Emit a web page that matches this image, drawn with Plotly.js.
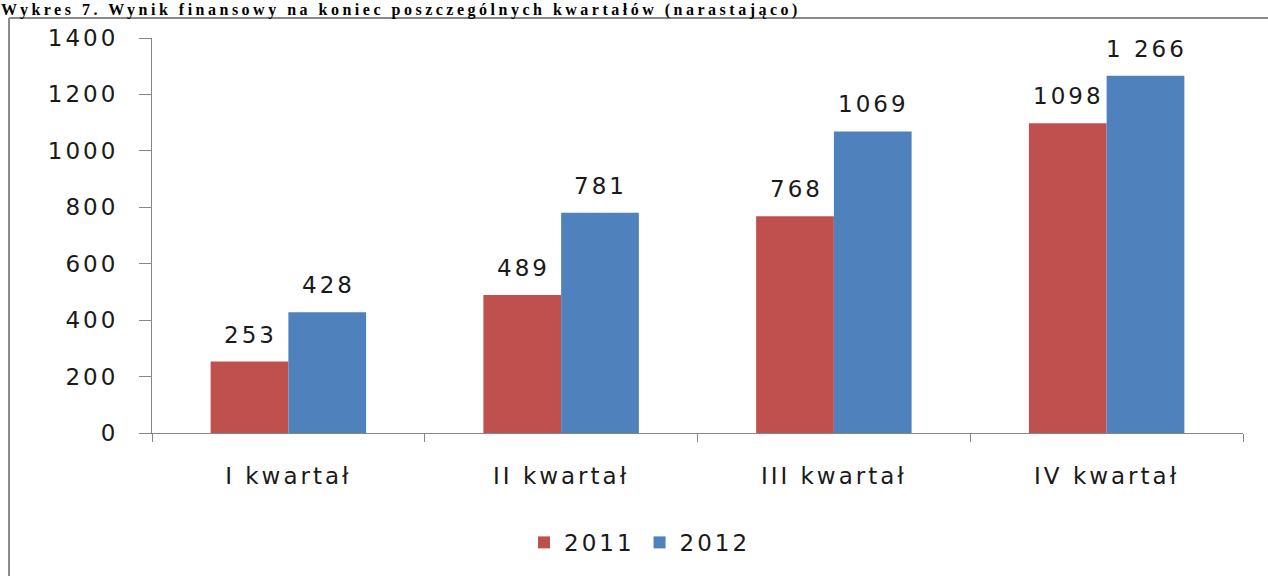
<!DOCTYPE html>
<html>
<head>
<meta charset="utf-8">
<script src="https://cdn.plot.ly/plotly-3.0.1.min.js"></script>
<style>
html,body{margin:0;padding:0;background:#fff;}
#chart{width:1268px;height:576px;}
text{letter-spacing:3px;}
</style>
</head>
<body>
<div id="chart"></div>
<script>
const categories = ['I kwartał', 'II kwartał', 'III kwartał', 'IV kwartał'];
const values2011 = [253, 489, 768, 1098];
const values2012 = [428, 781, 1069, 1266];
const labels2011 = ['253', '489', '768', '1098'];
const labels2012 = ['428', '781', '1069', '1 266'];
const yTicks = [0, 200, 400, 600, 800, 1000, 1200, 1400];
const chartTitle = 'Wykres 7. Wynik finansowy na koniec poszczególnych kwartałów (narastająco)';

const F = 'DejaVu Sans, Verdana, sans-serif';
const txtColor = '#1a1a1a';
const axisColor = '#868686';

const L = 152, R = 1243, T = 38, B = 435, W = 1268, H = 576;
const px = x => (x - L) / (R - L);
const py = y => (B - y) / (B - T);
const BARGAP = 0.43;
const barOffset = (1 - BARGAP) * (R - L) / categories.length / 4;

const traces = [
  {type:'bar', name:'2011', x:categories, y:values2011, marker:{color:'#C0504D'}},
  {type:'bar', name:'2012', x:categories, y:values2012, marker:{color:'#4F81BD'}}
];

const labelAnn = [];
[[values2011, labels2011, -1], [values2012, labels2012, 1]].forEach(([vals, labs, side]) => {
  vals.forEach((v, i) => labelAnn.push({
    xref:'x', yref:'y', x:categories[i], y:v, text:labs[i], showarrow:false,
    xshift: side * barOffset + 1, yshift: 12, yanchor:'bottom', xanchor:'center',
    font:{family:F, size:23, color:txtColor}
  }));
});

const layout = {
  width:W, height:H,
  margin:{l:L, r:W-R, t:T, b:H-B, pad:0},
  paper_bgcolor:'#fff', plot_bgcolor:'#fff',
  barmode:'group', bargap:BARGAP, bargroupgap:0,
  font:{family:F, size:23, color:txtColor},
  xaxis:{showgrid:false, showline:true, linecolor:axisColor, linewidth:1,
         ticks:'outside', ticklen:8, tickcolor:axisColor, tickson:'boundaries',
         ticklabelstandoff:22,
         tickfont:{family:F, size:23, color:txtColor}, zeroline:false},
  yaxis:{range:[0,1400], tickvals:yTicks, showgrid:false, showline:true,
         linecolor:axisColor, linewidth:1, ticks:'outside', ticklen:12,
         tickcolor:axisColor, zeroline:false, ticklabelstandoff:16,
         tickfont:{family:F, size:23, color:txtColor}},
  showlegend:true,
  legend:{orientation:'h', x:px(640), xanchor:'center', y:py(545), yanchor:'middle',
          font:{family:F, size:23, color:txtColor}, itemwidth:30, traceorder:'normal'},
  annotations:[{text:'<span style="letter-spacing:3.5px"><b>'+chartTitle+'</b></span>', xref:'paper', yref:'paper',
    x:px(0), xanchor:'left', y:py(0), yanchor:'top', showarrow:false, borderpad:0,
    font:{family:'Liberation Serif, Times New Roman, serif', size:16, color:'#000'}}].concat(labelAnn),
  shapes:[
    {type:'line', xref:'paper', yref:'paper', x0:px(9), x1:px(1300), y0:py(18), y1:py(18),
     line:{color:'#8a8a8a', width:2}},
    {type:'line', xref:'paper', yref:'paper', x0:px(9), x1:px(9), y0:py(18), y1:py(620),
     line:{color:'#8a8a8a', width:2}}
  ]
};

Plotly.newPlot('chart', traces, layout, {displayModeBar:false, staticPlot:true});
</script>
</body>
</html>
